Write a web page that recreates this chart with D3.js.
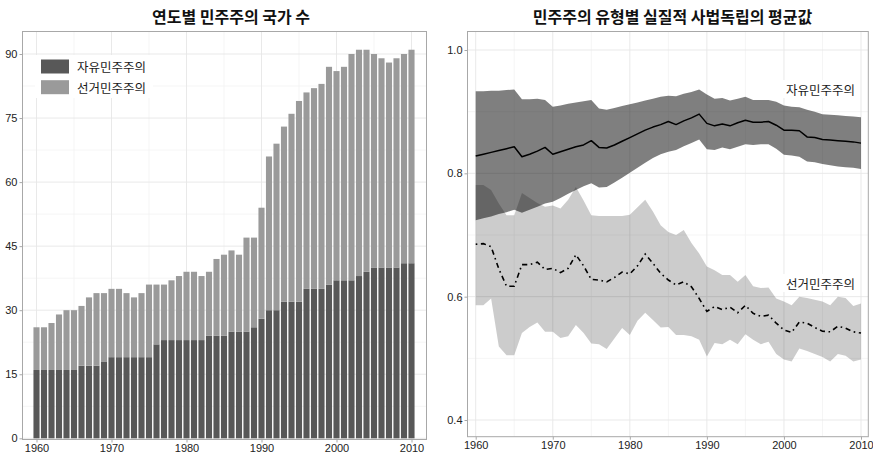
<!DOCTYPE html>
<html>
<head>
<meta charset="utf-8">
<script src="https://cdn.jsdelivr.net/npm/d3@7"></script>
<style>
  body { margin: 0; background: #fff; }
  svg { display: block; }
  .num { font-family: "Liberation Sans", Arial, Helvetica, sans-serif; }
  .kr { font-family: "Noto Sans CJK KR", "Noto Sans", sans-serif; }
</style>
</head>
<body>
<svg id="chart" width="873" height="454"></svg>
<script>
// ---- data -------------------------------------------------------------
const years = [1960,1961,1962,1963,1964,1965,1966,1967,1968,1969,
               1970,1971,1972,1973,1974,1975,1976,1977,1978,1979,
               1980,1981,1982,1983,1984,1985,1986,1987,1988,1989,
               1990,1991,1992,1993,1994,1995,1996,1997,1998,1999,
               2000,2001,2002,2003,2004,2005,2006,2007,2008,2009,2010];

const seriesNames = ["자유민주주의", "선거민주주의"];

// number of liberal / electoral democracies per year
const liberalCount = [16,16,16,16,16,16,17,17,17,18,
                      19,19,19,19,19,19,22,23,23,23,
                      23,23,23,24,24,24,25,25,25,26,
                      28,30,30,32,32,32,35,35,35,36,
                      37,37,37,38,39,40,40,40,40,41,41];
const electoralCount = [10,10,11,13,14,14,14,16,17,16,
                        16,16,15,14,15,17,14,13,14,15,
                        16,16,15,15,18,19,19,18,22,21,
                        26,36,39,41,44,47,46,47,48,51,
                        49,50,53,53,52,50,49,48,49,49,50];

// mean judicial independence with interval bounds
const liberalMean = [.828,.831,.834,.837,.840,.843,.827,.831,.836,.842,
                     .831,.835,.839,.843,.846,.853,.842,.841,.846,.852,
                     .858,.864,.870,.875,.879,.884,.879,.885,.890,.896,
                     .881,.877,.880,.877,.882,.886,.883,.883,.884,.878,
                     .870,.870,.869,.859,.858,.855,.854,.853,.852,.851,.849];
const liberalHigh = [.933,.933,.934,.934,.935,.936,.920,.920,.921,.919,
                     .908,.910,.913,.915,.917,.919,.905,.903,.906,.909,
                     .912,.915,.918,.921,.924,.926,.925,.929,.932,.936,
                     .928,.921,.922,.918,.921,.924,.919,.919,.919,.916,
                     .910,.908,.907,.903,.900,.896,.895,.894,.893,.892,.891];
const liberalLow = [.724,.727,.730,.734,.737,.741,.736,.741,.746,.751,
                    .754,.760,.767,.773,.779,.784,.777,.778,.785,.793,
                    .801,.809,.817,.825,.831,.835,.838,.844,.849,.855,
                    .839,.838,.842,.839,.843,.847,.846,.847,.847,.840,
                    .830,.829,.827,.819,.818,.815,.813,.811,.810,.809,.807];

const electoralMean = [.685,.686,.681,.645,.617,.617,.652,.652,.656,.644,
                       .646,.639,.646,.668,.650,.628,.627,.624,.631,.640,
                       .637,.650,.669,.654,.638,.627,.619,.624,.616,.597,
                       .576,.584,.579,.583,.574,.586,.573,.568,.570,.557,
                       .546,.542,.559,.557,.550,.544,.543,.552,.549,.543,.541];
const electoralHigh = [.781,.781,.773,.751,.732,.732,.768,.760,.752,.746,
                       .748,.743,.757,.778,.756,.732,.731,.731,.731,.731,
                       .733,.745,.757,.738,.716,.705,.700,.708,.687,.670,
                       .649,.643,.635,.635,.624,.635,.617,.614,.615,.597,
                       .592,.586,.600,.598,.595,.592,.586,.600,.598,.585,.589];
const electoralLow = [.586,.586,.597,.519,.505,.505,.541,.551,.558,.543,
                      .543,.533,.536,.554,.541,.524,.523,.515,.532,.549,
                      .538,.561,.574,.562,.550,.551,.538,.538,.536,.530,
                      .503,.525,.523,.530,.523,.539,.530,.523,.527,.507,
                      .498,.495,.516,.512,.507,.502,.495,.507,.504,.495,.498];

const countTicks = [0, 15, 30, 45, 60, 75, 90];
const countMinor = [7.5, 22.5, 37.5, 52.5, 67.5, 82.5];
const scoreTicks = [0.4, 0.6, 0.8, 1.0];
const scoreMinor = [0.5, 0.7, 0.9];
const yearTicks = [1960, 1970, 1980, 1990, 2000, 2010];
const yearMinor = [1965, 1975, 1985, 1995, 2005];

const titles = ["연도별 민주주의 국가 수", "민주주의 유형별 실질적 사법독립의 평균값"];

// ---- shared styling ---------------------------------------------------
const svg = d3.select("#chart");
const GRID_MAJOR = "#e6e6e6", GRID_MINOR = "#f2f2f2", BORDER = "#a8a8a8";
const TICK_TEXT = "#222";

function drawGrid(g, x, y, xMajor, xMinor, yMajor, yMinor, box) {
  const grid = g.append("g");
  grid.selectAll(".ymin").data(yMinor).join("line")
    .attr("x1", box.x0).attr("x2", box.x1)
    .attr("y1", d => y(d)).attr("y2", d => y(d))
    .attr("stroke", GRID_MINOR).attr("stroke-width", 0.8);
  grid.selectAll(".xmin").data(xMinor).join("line")
    .attr("y1", box.y0).attr("y2", box.y1)
    .attr("x1", d => x(d)).attr("x2", d => x(d))
    .attr("stroke", GRID_MINOR).attr("stroke-width", 0.8);
  grid.selectAll(".ymaj").data(yMajor).join("line")
    .attr("x1", box.x0).attr("x2", box.x1)
    .attr("y1", d => y(d)).attr("y2", d => y(d))
    .attr("stroke", GRID_MAJOR).attr("stroke-width", 0.9);
  grid.selectAll(".xmaj").data(xMajor).join("line")
    .attr("y1", box.y0).attr("y2", box.y1)
    .attr("x1", d => x(d)).attr("x2", d => x(d))
    .attr("stroke", GRID_MAJOR).attr("stroke-width", 0.9);
}

function drawAxes(g, x, y, xTicks, yTicks, yFormat, box) {
  const ax = g.append("g").attr("transform", `translate(0,${box.y1})`)
    .call(d3.axisBottom(x).tickValues(xTicks).tickFormat(d3.format("d"))
      .tickSize(3).tickPadding(1.5));
  const ay = g.append("g").attr("transform", `translate(${box.x0},0)`)
    .call(d3.axisLeft(y).tickValues(yTicks).tickFormat(yFormat)
      .tickSize(3).tickPadding(2));
  [ax, ay].forEach(a => {
    a.select(".domain").remove();
    a.selectAll("line").attr("stroke", BORDER);
    a.selectAll("text").attr("class", "num").attr("fill", TICK_TEXT)
      .style("font-size", "11px");
  });
}

function drawBorder(g, box) {
  g.append("rect")
    .attr("x", box.x0).attr("y", box.y0)
    .attr("width", box.x1 - box.x0).attr("height", box.y1 - box.y0)
    .attr("fill", "none").attr("stroke", BORDER).attr("stroke-width", 1);
}

// ---- left: stacked counts ---------------------------------------------
{
  const box = { x0: 22.5, x1: 426.5, y0: 31.5, y1: 439.5 };
  const g = svg.append("g");
  const x = d3.scaleLinear().domain([1958.133, 2012.0]).range([box.x0, box.x1]);
  const y = d3.scaleLinear().domain([0, 90]).range([438.3, 54]);

  drawGrid(g, x, y, yearTicks, yearMinor, countTicks, countMinor, box);

  const rows = years.map((yr, i) => ({ year: yr, liberal: liberalCount[i], electoral: electoralCount[i] }));
  const stack = d3.stack().keys(["liberal", "electoral"])(rows);
  const fills = ["#585858", "#9a9a9a"];
  const barW = 6.1;

  g.selectAll(".layer").data(stack).join("g")
    .attr("fill", (d, i) => fills[i])
    .selectAll("rect").data(d => d).join("rect")
      .attr("x", d => x(d.data.year) - barW / 2)
      .attr("width", barW)
      .attr("y", d => y(d[1]))
      .attr("height", d => y(d[0]) - y(d[1]));

  drawBorder(g, box);
  drawAxes(g, x, y, yearTicks, countTicks, d3.format("d"), box);

  // legend
  const lg = g.append("g");
  lg.append("rect").attr("x", 35).attr("y", 55).attr("width", 118).attr("height", 43)
    .attr("fill", "#fff");
  seriesNames.forEach((name, i) => {
    lg.append("rect").attr("x", 41).attr("y", 59.5 + i * 20.7)
      .attr("width", 28).attr("height", 14).attr("fill", fills[i]);
    lg.append("text").attr("class", "kr").attr("x", 77).attr("y", 66.7 + i * 20.7)
      .attr("dominant-baseline", "central")
      .style("font-size", "12.5px").attr("fill", "#1a1a1a").text(name);
  });

  svg.append("text").attr("class", "kr").attr("x", 231).attr("y", 16)
    .attr("text-anchor", "middle").attr("dominant-baseline", "central")
    .style("font-size", "16px").style("font-weight", "700").attr("fill", "#111")
    .text(titles[0]);
}

// ---- right: mean judicial independence ---------------------------------
{
  const box = { x0: 467.5, x1: 868.3, y0: 31.5, y1: 436.7 };
  const g = svg.append("g");
  const x = d3.scaleLinear().domain([1960, 2010]).range([475.7, 861]);
  const y = d3.scaleLinear().domain([0.4, 1.0]).range([420, 50]);

  drawGrid(g, x, y, yearTicks, yearMinor, scoreTicks, scoreMinor, box);

  const area = (lo, hi) => d3.area()
    .x((d, i) => x(years[i]))
    .y0((d, i) => y(lo[i]))
    .y1((d, i) => y(hi[i]))(years);
  const line = vals => d3.line()
    .x((d, i) => x(years[i]))
    .y((d, i) => y(vals[i]))(years);

  g.append("path").attr("d", area(liberalLow, liberalHigh))
    .attr("fill", "#000").attr("fill-opacity", 0.5);
  g.append("path").attr("d", area(electoralLow, electoralHigh))
    .attr("fill", "#000").attr("fill-opacity", 0.2);

  g.append("path").attr("d", line(liberalMean))
    .attr("fill", "none").attr("stroke", "#000").attr("stroke-width", 1.5)
    .attr("stroke-linejoin", "round");
  g.append("path").attr("d", line(electoralMean))
    .attr("fill", "none").attr("stroke", "#000").attr("stroke-width", 1.6)
    .attr("stroke-dasharray", "1.6,3.6,5.2,3.6");

  drawBorder(g, box);
  drawAxes(g, x, y, yearTicks, scoreTicks, d3.format(".1f"), box);

  // direct series labels
  const labelY = [89, 283];
  seriesNames.forEach((name, i) => {
    g.append("rect").attr("x", 781).attr("y", labelY[i] - 9)
      .attr("width", 77).attr("height", 18).attr("fill", "#fff");
    g.append("text").attr("class", "kr").attr("x", 855).attr("y", labelY[i])
      .attr("text-anchor", "end").attr("dominant-baseline", "central")
      .style("font-size", "12.5px").attr("fill", "#1a1a1a").text(name);
  });

  svg.append("text").attr("class", "kr").attr("x", 672.5).attr("y", 16)
    .attr("text-anchor", "middle").attr("dominant-baseline", "central")
    .style("font-size", "16px").style("font-weight", "700").attr("fill", "#111")
    .text(titles[1]);
}
</script>
</body>
</html>
